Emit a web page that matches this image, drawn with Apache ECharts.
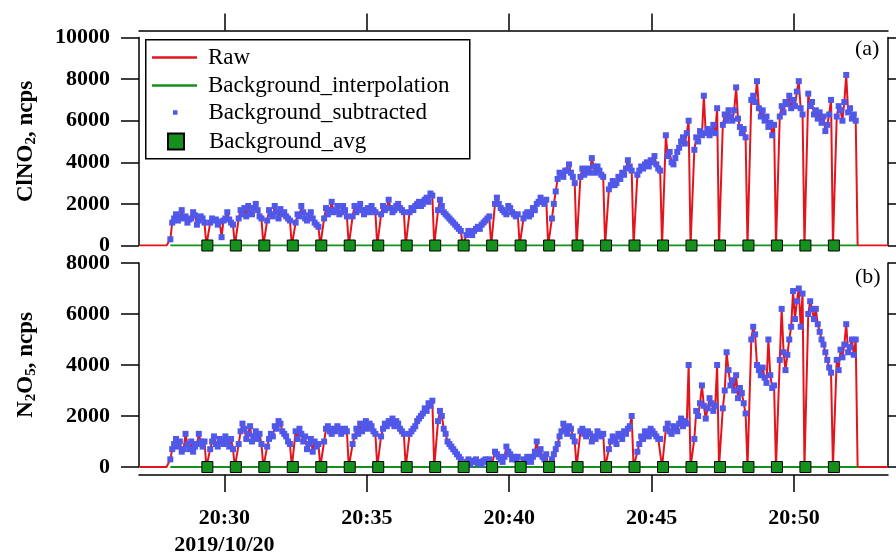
<!DOCTYPE html>
<html>
<head>
<meta charset="utf-8">
<script src="https://cdn.jsdelivr.net/npm/echarts@6/dist/echarts.min.js"></script>
<style>
  html, body { margin: 0; padding: 0; background: #fff; }
  #chart { width: 896px; height: 559px; }
</style>
</head>
<body>
<div id="chart"></div>
<script>
// one sample every 4 s, first sample at 20:27:02 (2019/10/20)
const sampleStart = '20:27:02';
const sampleStep = 4;

// ClNO2 raw signal, ncps (one row = one minute, 20:27 ... 20:53)
const clno2Raw = [
  0, 0, 0, 0, 0, 0, 0, 0, 0, 0, 0, 0, 0, 0, 0,
  0, 300, 1100, 1300, 1500, 1200, 1400, 1700, 1300, 1400, 1100, 1250, 1300, 1600, 1450,
  1000, 1200, 1400, 1300, 1100, 0, 0, 1100, 1300, 1200, 1250, 1000, 1150, 400, 1200,
  1300, 1600, 1250, 1100, 1000, 0, 0, 1300, 1700, 1500, 1800, 1400, 1900, 1600, 1500,
  1800, 2000, 1700, 1400, 1300, 0, 0, 1200, 1700, 1500, 1400, 1900, 1600, 1300, 1750,
  1500, 1600, 1400, 1300, 1200, 0, 0, 1100, 1500, 1400, 1900, 1600, 1300, 1200, 1450,
  1600, 1300, 1100, 1000, 900, 0, 0, 1300, 1800, 1500, 1700, 2100, 1600, 1700, 1900,
  1500, 1600, 1900, 1700, 1400, 0, 0, 1400, 1900, 1600, 1800, 2000, 1700, 1500, 1700,
  1800, 1600, 1900, 1700, 1600, 0, 0, 1500, 1900, 1700, 1800, 2200, 1800, 1600, 1700,
  1900, 2000, 1800, 1700, 1600, 0, 0, 1600, 1800, 1700, 1900, 2000, 2100, 1900, 2000,
  2200, 2300, 2100, 2500, 2400, 0, 0, 1700, 2200, 1900, 1600, 1500, 1400, 1300, 1200,
  1100, 1000, 900, 800, 700, 0, 0, 500, 700, 600, 500, 700, 800, 900, 800,
  1000, 1100, 1200, 1300, 1400, 0, 0, 2000, 2300, 2000, 1800, 1700, 1600, 1500, 1900,
  1800, 1600, 1500, 1400, 1500, 0, 0, 1300, 1500, 1600, 1400, 1500, 1800, 1700, 2000,
  2100, 2300, 2100, 2000, 2200, 0, 0, 1300, 2000, 2600, 3200, 3500, 3400, 3300, 3600,
  3600, 3900, 3500, 3300, 3000, 0, 0, 3300, 3700, 3400, 3600, 3700, 3500, 4200, 3800,
  3500, 3800, 3600, 3400, 3300, 0, 0, 2700, 2900, 3100, 2900, 3000, 3300, 3200, 3500,
  3400, 3700, 4100, 3800, 3600, 0, 0, 3400, 3600, 3800, 3700, 3900, 4000, 3800, 4100,
  4000, 4300, 3900, 3700, 3600, 0, 0, 5300, 4300, 4500, 4000, 3900, 4200, 4500, 4700,
  5000, 5200, 4900, 5400, 6000, 0, 0, 4600, 5200, 5000, 5500, 5300, 7200, 5400, 5600,
  5300, 5500, 5800, 5400, 6600, 0, 0, 5800, 6300, 6000, 6500, 6200, 6000, 6500, 7600,
  6100, 5700, 5400, 5600, 5200, 0, 0, 7000, 7200, 6900, 7900, 6600, 6200, 6500, 6000,
  6200, 5700, 5900, 5300, 5800, 0, 0, 6200, 6700, 6400, 6900, 6800, 7200, 6600, 7000,
  6700, 7400, 7900, 6600, 6300, 0, 0, 7300, 6700, 6900, 6300, 6500, 6100, 6400, 5900,
  6200, 5500, 5800, 6300, 7000, 0, 0, 6200, 6700, 6500, 6000, 6900, 8200, 6400, 6600,
  6100, 6300, 6000, 0, 0, 0, 0, 0, 0, 0, 0, 0, 0, 0, 0,
  0, 0, 0, 0, 0
];

// N2O5 raw signal, ncps
const n2o5Raw = [
  0, 0, 0, 0, 0, 0, 0, 0, 0, 0, 0, 0, 0, 0, 0,
  0, 300, 700, 900, 1100, 800, 1000, 600, 700, 1300, 900, 700, 1000, 600, 800,
  900, 1300, 1000, 800, 1000, 0, 0, 700, 1000, 1200, 900, 800, 1100, 1000, 900,
  1200, 1000, 800, 1100, 700, 0, 0, 900, 1400, 1700, 1500, 1100, 1300, 1600, 1000,
  1200, 1400, 1100, 1300, 900, 0, 0, 800, 1100, 1300, 1200, 1600, 1500, 1800, 1700,
  1400, 1300, 1200, 1000, 900, 0, 0, 1400, 1100, 1500, 1300, 1000, 1200, 700, 900,
  1100, 600, 1000, 800, 900, 0, 0, 1000, 1500, 1600, 1400, 1300, 1500, 1400, 1600,
  1500, 1300, 1400, 1500, 1400, 0, 0, 900, 1200, 1500, 1300, 1700, 1400, 1600, 1800,
  1500, 1700, 1600, 1400, 1300, 0, 0, 1200, 1500, 1700, 1600, 1800, 1700, 1900, 1600,
  1800, 1700, 1500, 1400, 1300, 0, 0, 1300, 1400, 1500, 1600, 1800, 1900, 2000, 2100,
  2300, 2200, 2500, 2400, 2600, 0, 0, 1800, 2200, 2000, 1500, 1300, 1000, 900, 800,
  700, 600, 500, 400, 300, 0, 0, 200, 300, 100, 200, 250, 300, 150, 200,
  100, 250, 300, 200, 300, 0, 0, 600, 500, 400, 300, 200, 400, 800, 600,
  500, 300, 400, 300, 400, 0, 0, 300, 200, 400, 300, 200, 400, 600, 1000,
  500, 700, 400, 300, 500, 0, 0, 300, 500, 700, 900, 1200, 1400, 1700, 1500,
  1300, 1600, 1500, 1200, 1000, 0, 0, 1400, 1500, 1300, 1200, 1400, 1300, 1000, 1200,
  1100, 1400, 1300, 1200, 1300, 0, 0, 700, 1000, 1200, 1100, 900, 1300, 1200, 1100,
  1400, 1300, 1500, 1600, 2000, 0, 0, 600, 900, 1200, 1100, 1400, 1300, 1200, 1500,
  1400, 1300, 1200, 1100, 1100, 0, 0, 1500, 1700, 1400, 1300, 1600, 1500, 1400, 1700,
  1900, 1600, 1800, 1700, 4000, 0, 0, 1100, 2200, 2000, 2500, 3200, 2400, 1900, 2300,
  2700, 2500, 2200, 2400, 4000, 0, 0, 2300, 3000, 4500, 3800, 3200, 3400, 3000, 3600,
  2700, 3100, 2900, 2500, 2100, 0, 0, 5000, 5500, 5200, 4000, 3800, 3600, 3900, 3500,
  3300, 5000, 3600, 3100, 3200, 0, 0, 4200, 6200, 4500, 3800, 4400, 5000, 5500, 6900,
  5800, 6500, 7000, 5500, 6800, 0, 0, 6000, 6500, 6200, 5800, 6200, 5600, 5300, 5000,
  4800, 4500, 4200, 3900, 3700, 0, 0, 4200, 3800, 4600, 4300, 4800, 5600, 4500, 4700,
  5000, 4400, 5000, 0, 0, 0, 0, 0, 0, 0, 0, 0, 0, 0, 0,
  0, 0, 0, 0, 0
];

// zero-air background checks, once a minute
const bgTimes = [
  '20:29:24', '20:30:24', '20:31:24', '20:32:24', '20:33:24', '20:34:24',
  '20:35:24', '20:36:24', '20:37:24', '20:38:24', '20:39:24', '20:40:24',
  '20:41:24', '20:42:24', '20:43:24', '20:44:24', '20:45:24', '20:46:24',
  '20:47:24', '20:48:24', '20:49:24', '20:50:24', '20:51:24'
];
const bgClno2 = [0, 0, 0, 0, 0, 0, 0, 0, 0, 0, 0, 0, 0, 0, 0, 0, 0, 0, 0, 0, 0, 0, 0];
const bgN2o5 = [0, 0, 0, 0, 0, 0, 0, 0, 0, 0, 0, 0, 0, 0, 0, 0, 0, 0, 0, 0, 0, 0, 0];
const measureSpan = ['20:28:06', '20:52:14'];

const xRange = ['20:27:00', '20:53:18'];
const xTicks = ['20:30', '20:35', '20:40', '20:45', '20:50'];
const dateLabel = '2019/10/20';

const RED = '#e3151c';
const GREEN = '#16901c';
const BLUE = '#5058ea';

function toMs(s) {
  const p = s.split(':').map(Number);
  return new Date(2019, 9, 20, p[0], p[1], p[2] || 0).getTime();
}
const t0 = toMs(sampleStart);
const bgMs = bgTimes.map(toMs);

function bgInterp(t, avg) {
  if (t <= bgMs[0]) return avg[0];
  for (let i = 1; i < bgMs.length; i++) {
    if (t <= bgMs[i]) {
      const f = (t - bgMs[i - 1]) / (bgMs[i] - bgMs[i - 1]);
      return avg[i - 1] + f * (avg[i] - avg[i - 1]);
    }
  }
  return avg[avg.length - 1];
}
function rawLine(raw) {
  return raw.map((v, i) => [t0 + i * sampleStep * 1000, v]);
}
function interpLine(avg) {
  const ts = [toMs(measureSpan[0])].concat(bgMs, [toMs(measureSpan[1])]);
  return ts.map(t => [t, bgInterp(t, avg)]);
}
function subtracted(raw, avg) {
  // zero samples are the background (zero-air) periods
  const out = [];
  raw.forEach((v, i) => {
    const t = t0 + i * sampleStep * 1000;
    if (v > 0) out.push([t, v - bgInterp(t, avg)]);
  });
  return out;
}
function avgPoints(avg) {
  return bgMs.map((t, i) => [t, avg[i]]);
}

const serif = 'Liberation Serif, Times New Roman, serif';
const axisFont = { fontFamily: serif, fontWeight: 'bold', fontSize: 22, color: '#000' };
const axisLine = { show: true, onZero: false, lineStyle: { color: '#000', width: 1.5 } };
const tickMs = xTicks.map(toMs);
const pad2 = n => (n < 10 ? '0' : '') + n;

function yName(parts) {
  return {
    name: parts,
    nameLocation: 'middle',
    nameGap: 100,
    nameRotate: 90,
    nameTextStyle: {
      rich: {
        a: { fontFamily: serif, fontWeight: 'bold', fontSize: 23, lineHeight: 26, color: '#000' },
        s: { fontFamily: serif, fontWeight: 'bold', fontSize: 15, lineHeight: 10, verticalAlign: 'bottom', color: '#000' }
      }
    }
  };
}
function leftY(grid, max, nameParts) {
  return Object.assign({
    gridIndex: grid, type: 'value', min: 0, max: max, interval: 2000, position: 'left',
    axisLine: axisLine,
    axisTick: { show: true, length: 18, lineStyle: { color: '#000', width: 1.5 } },
    axisLabel: Object.assign({ margin: 29, formatter: v => String(v) }, axisFont),
    splitLine: { show: false }
  }, yName(nameParts));
}
function rightY(grid, max) {
  return {
    gridIndex: grid, type: 'value', min: 0, max: max, interval: 2000, position: 'right',
    axisLine: axisLine,
    axisTick: { show: true, length: 9, lineStyle: { color: '#000', width: 1.5 } },
    axisLabel: { show: false },
    splitLine: { show: false }
  };
}
function panelSeries(xi, yi, raw, avg) {
  return [
    {
      type: 'line', name: 'Raw', xAxisIndex: xi, yAxisIndex: yi, data: rawLine(raw),
      symbol: 'none', lineStyle: { color: RED, width: 2 }, itemStyle: { color: RED }, z: 2
    },
    {
      type: 'line', name: 'Background_interpolation', xAxisIndex: xi, yAxisIndex: yi, data: interpLine(avg),
      symbol: 'none', lineStyle: { color: GREEN, width: 2 }, itemStyle: { color: GREEN }, z: 3
    },
    {
      type: 'scatter', name: 'Background_subtracted', xAxisIndex: xi, yAxisIndex: yi, data: subtracted(raw, avg),
      symbol: 'rect', symbolSize: 6, itemStyle: { color: BLUE, opacity: 1 }, z: 4
    },
    {
      type: 'scatter', name: 'Background_avg', xAxisIndex: xi, yAxisIndex: yi, data: avgPoints(avg),
      symbol: 'rect', symbolSize: 11, itemStyle: { color: GREEN, borderColor: '#000', borderWidth: 1, opacity: 1 }, z: 5
    }
  ];
}

const legendText = { fontFamily: serif, fontSize: 23, color: '#000' };
const lineIcon = 'path://M0,0h45v2.4h-45z';
function legendRow(item, left, top, w, h, gap) {
  return {
    data: [item], left: left, top: top, padding: 0, itemWidth: w, itemHeight: h,
    selectedMode: false, orient: 'vertical',
    textStyle: Object.assign({ padding: [0, 0, 0, gap] }, legendText)
  };
}

const chart = echarts.init(document.getElementById('chart'));
chart.setOption({
  animation: false,
  backgroundColor: '#fff',
  title: [
    { text: '(a)', left: 855, top: 38, padding: 0, textStyle: { fontFamily: serif, fontWeight: 'normal', fontSize: 22, color: '#000' } },
    { text: '(b)', left: 855, top: 266, padding: 0, textStyle: { fontFamily: serif, fontWeight: 'normal', fontSize: 22, color: '#000' } }
  ],
  grid: [
    { left: 139, right: 8, top: 37.5, height: 208 },
    { left: 139, right: 8, top: 263, height: 208 }
  ],
  xAxis: [
    {
      gridIndex: 0, type: 'value', position: 'top', offset: 7,
      min: toMs(xRange[0]), max: toMs(xRange[1]),
      axisLine: axisLine,
      axisTick: { show: true, customValues: tickMs, length: 17, lineStyle: { color: '#000', width: 1.5 } },
      axisLabel: { show: false },
      splitLine: { show: false }
    },
    {
      gridIndex: 1, type: 'value', position: 'bottom', offset: 8,
      min: toMs(xRange[0]), max: toMs(xRange[1]),
      axisLine: axisLine,
      axisTick: { show: true, customValues: tickMs, length: 17, lineStyle: { color: '#000', width: 1.5 } },
      axisLabel: Object.assign({
        customValues: tickMs, margin: 30, lineHeight: 27,
        formatter: function (v) {
          const d = new Date(v);
          const s = d.getHours() + ':' + pad2(d.getMinutes());
          return v === tickMs[0] ? s + '\n' + dateLabel : s;
        }
      }, axisFont),
      splitLine: { show: false }
    }
  ],
  yAxis: [
    leftY(0, 10000, '{a|ClNO}{s|2}{a|, ncps}'),
    rightY(0, 10000),
    leftY(1, 8000, '{a|N}{s|2}{a|O}{s|5}{a|, ncps}'),
    rightY(1, 8000)
  ],
  legend: [
    legendRow({ name: 'Raw', icon: lineIcon }, 152, 46, 45, 14, 6),
    legendRow({ name: 'Background_interpolation', icon: lineIcon }, 152, 74, 45, 14, 6),
    legendRow('Background_subtracted', 173, 101, 4.5, 4.5, 26),
    legendRow('Background_avg', 167, 130, 16, 16, 20)
  ],
  graphic: [
    {
      type: 'rect', left: 145, top: 39, z: 0, silent: true,
      shape: { width: 324, height: 119 },
      style: { fill: '#fff', stroke: '#000', lineWidth: 1.5 }
    }
  ],
  series: panelSeries(0, 0, clno2Raw, bgClno2).concat(panelSeries(1, 2, n2o5Raw, bgN2o5))
});
</script>
</body>
</html>
